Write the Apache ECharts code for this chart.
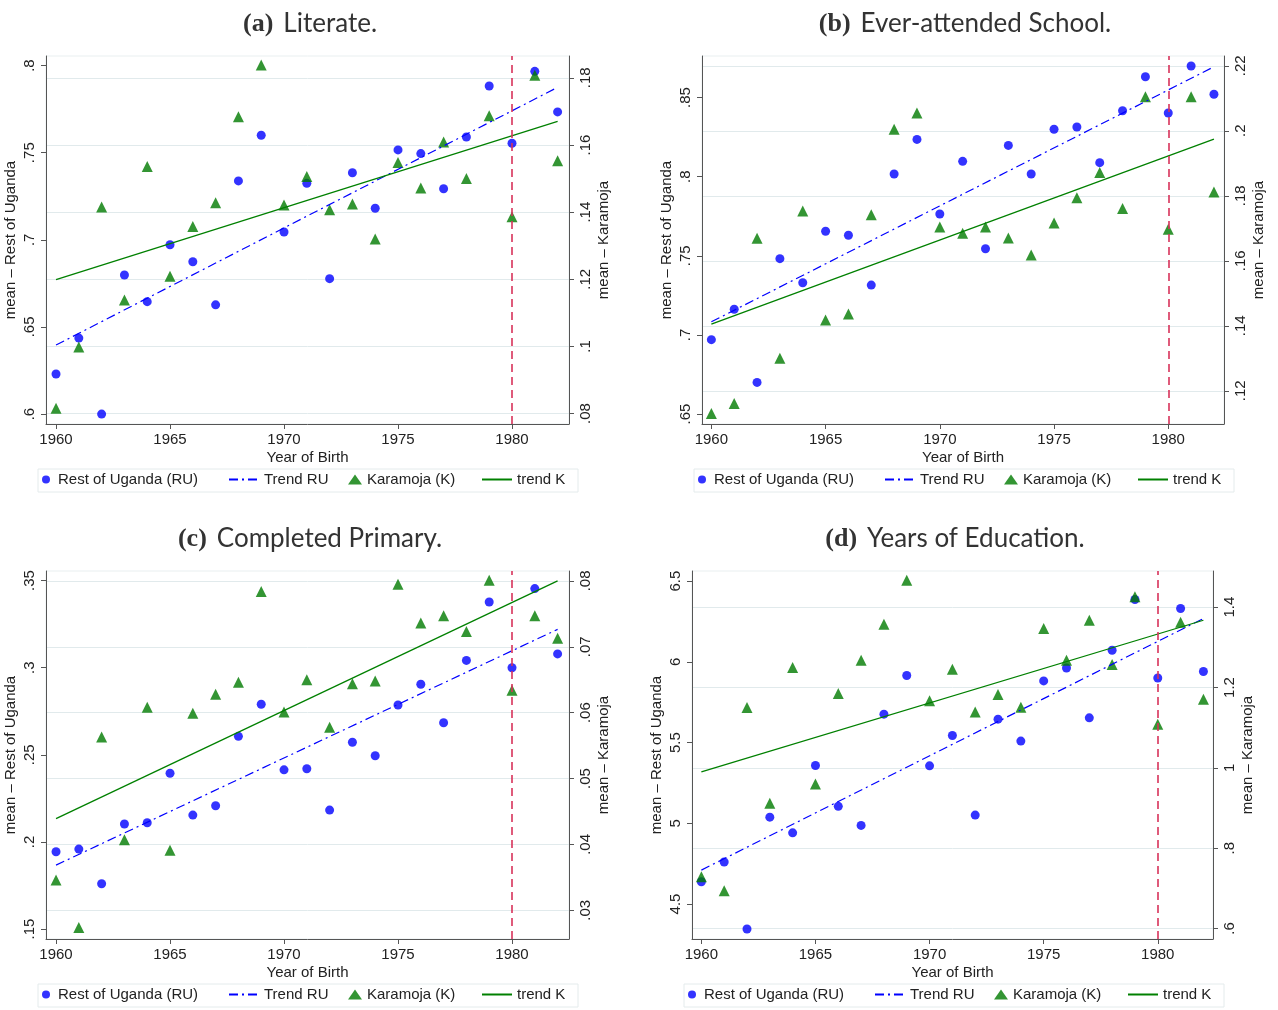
<!DOCTYPE html>
<html>
<head>
<meta charset="utf-8">
<script src="https://cdn.jsdelivr.net/npm/echarts@6/dist/echarts.min.js"></script>
<style>
html, body { margin: 0; padding: 0; background: #fff; }
#pageEcharts { width: 1278px; height: 1010px; }
</style>
</head>
<body>
<div id="pageEcharts"></div>
<script>
// year of birth cohorts
var years = [1960,1961,1962,1963,1964,1965,1966,1967,1968,1969,1970,1971,1972,1973,1974,1975,1976,1977,1978,1979,1980,1981,1982];
var trendYears = [1960, 1982];
var xTicks = [1960, 1965, 1970, 1975, 1980];
var cutoffYear = 1980;

// (a) literate
var ruLiterate = [.623,.6436,.600,.6798,.6645,.6972,.6874,.6627,.7338,.760,.7045,.7324,.6777,.7385,.7181,.7516,.7495,.7293,.759,.7883,.7554,.7967,.7734];
var kLiterate = [.0816,.0998,.1415,.1138,.1536,.1209,.1357,.1428,.1684,.1838,.1421,.1506,.1407,.1424,.132,.1548,.1472,.1609,.150,.1687,.1386,.1808,.1553];
var trendRuLiterate = [.6396, .7875];
var trendKLiterate = [.1199, .167];
var ticksLeftA = [.6, .65, .7, .75, .8];
var ticksRightA = [.08, .1, .12, .14, .16, .18];

// (b) ever-attended school
var ruSchool = [.697,.7162,.670,.7482,.733,.7655,.763,.7315,.8017,.8236,.7764,.8097,.7545,.8198,.8017,.83,.8314,.8089,.8417,.8632,.8403,.87,.8521];
var kSchool = [.113,.1161,.1669,.13,.1753,.1418,.1436,.1742,.2005,.2055,.1704,.1685,.1704,.167,.1618,.1716,.1794,.1872,.1761,.2105,.1697,.2105,.1812];
var trendRuSchool = [.7083, .8695];
var trendKSchool = [.1405, .1974];
var ticksLeftB = [.65, .7, .75, .8, .85];
var ticksRightB = [.12, .14, .16, .18, .2, .22];

// (c) completed primary
var ruPrimary = [.1944,.1959,.176,.2103,.211,.2394,.2154,.2208,.2606,.279,.2414,.242,.2183,.2572,.2495,.2786,.2905,.2684,.3042,.3377,.3,.3454,.3079];
var kPrimary = [.0346,.0274,.0563,.0407,.0608,.0391,.0599,.0628,.0646,.0784,.0601,.065,.0578,.0644,.0648,.0795,.0736,.0747,.0723,.0801,.0634,.0747,.0713];
var trendRuPrimary = [.1867, .322];
var trendKPrimary = [.0439, .08];
var ticksLeftC = [.15, .2, .25, .3, .35];
var ticksRightC = [.03, .04, .05, .06, .07, .08];

// (d) years of education
var ruYears = [4.638,4.76,4.345,5.038,4.941,5.358,5.105,4.987,5.676,5.915,5.356,5.544,5.051,5.645,5.509,5.882,5.962,5.653,6.072,6.386,5.9,6.33,5.94];
var kYears = [.7289,.694,1.1502,.912,1.2498,.9595,1.185,1.268,1.3575,1.467,1.1667,1.2455,1.139,1.1826,1.151,1.3468,1.268,1.3674,1.257,1.426,1.1087,1.3624,1.171];
var trendRuYears = [4.71, 6.268];
var trendKYears = [.99, 1.3674];
var ticksLeftD = [4.5, 5, 5.5, 6, 6.5];
var ticksRightD = [.6, .8, 1, 1.2, 1.4];

var names = ['Rest of Uganda (RU)', 'Trend RU', 'Karamoja (K)', 'trend K'];

var panels = [
    {tag:'(a)', title:'Literate.', ru:ruLiterate, k:kLiterate, tRu:trendRuLiterate, tK:trendKLiterate, lt:ticksLeftA, rt:ticksRightA,
     grid:{left:46, top:56, width:523, height:368}, x:[1959.56, 1982.5], yl:[.5943, .8055], yr:[.0769, .1865], titleX:305, titleTop:6, legendTop:472},
    {tag:'(b)', title:'Ever-attended School.', ru:ruSchool, k:kSchool, tRu:trendRuSchool, tK:trendKSchool, lt:ticksLeftB, rt:ticksRightB,
     grid:{left:702, top:56, width:522, height:368}, x:[1959.59, 1982.44], yl:[.6437, .8763], yr:[.1098, .223], titleX:960, titleTop:6, legendTop:472},
    {tag:'(c)', title:'Completed Primary.', ru:ruPrimary, k:kPrimary, tRu:trendRuPrimary, tK:trendKPrimary, lt:ticksLeftC, rt:ticksRightC,
     grid:{left:46, top:571, width:523, height:368}, x:[1959.56, 1982.5], yl:[.1443, .3555], yr:[.02564, .0815], titleX:305, titleTop:521, legendTop:987},
    {tag:'(d)', title:'Years of Education.', ru:ruYears, k:kYears, tRu:trendRuYears, tK:trendKYears, lt:ticksLeftD, rt:ticksRightD,
     grid:{left:692, top:571, width:521, height:368}, x:[1959.59, 1982.42], yl:[4.2834, 6.5625], yr:[.5739, 1.49], titleX:950, titleTop:521, legendTop:987}
];

var sans = 'Liberation Sans';
var axisColor = '#555';
var textColor = '#222';

function stataLabel(v) {
    return String(v).replace(/^0\./, '.');
}

function pairs(xs, ys) {
    return xs.map(function (x, i) { return [x, ys[i]]; });
}

var option = {
    animation: false,
    backgroundColor: '#fff',
    title: [],
    grid: [],
    xAxis: [],
    yAxis: [],
    legend: [],
    graphic: [],
    series: []
};

panels.forEach(function (p, i) {
    option.title.push({
        text: '{b|' + p.tag + '}  {t|' + p.title + '}',
        left: p.titleX,
        top: p.titleTop,
        textAlign: 'center',
        textStyle: {
            fontWeight: 'normal',
            rich: {
                b: {fontFamily: 'Liberation Serif', fontWeight: 'bold', fontSize: 26, color: '#333'},
                t: {fontFamily: 'Lato', fontWeight: 'normal', fontSize: 26, color: '#333'}
            }
        }
    });
    option.grid.push({
        left: p.grid.left, top: p.grid.top, width: p.grid.width, height: p.grid.height,
        show: true, borderColor: '#e9eff0', borderWidth: 1
    });
    option.xAxis.push({
        gridIndex: i,
        type: 'value',
        min: p.x[0],
        max: p.x[1],
        name: 'Year of Birth',
        nameLocation: 'middle',
        nameGap: 26,
        nameTextStyle: {fontFamily: sans, fontSize: 15, color: textColor},
        axisLine: {onZero: false, lineStyle: {color: axisColor, width: 1}},
        axisTick: {customValues: xTicks, length: 5, lineStyle: {color: axisColor}},
        axisLabel: {customValues: xTicks, fontFamily: sans, fontSize: 15, color: textColor, margin: 8,
            formatter: function (v) { return String(v); }},
        splitLine: {show: false}
    });
    // left axis: Rest of Uganda
    option.yAxis.push({
        gridIndex: i,
        type: 'value',
        position: 'left',
        min: p.yl[0],
        max: p.yl[1],
        name: 'mean \u2013 Rest of Uganda',
        nameLocation: 'middle',
        nameRotate: 90,
        nameGap: 28,
        nameTextStyle: {fontFamily: sans, fontSize: 15, color: textColor},
        axisLine: {show: true, lineStyle: {color: axisColor, width: 1}},
        axisTick: {show: true, customValues: p.lt, length: 5, lineStyle: {color: axisColor}},
        axisLabel: {customValues: p.lt, rotate: 90, fontFamily: sans, fontSize: 15, color: textColor, margin: 9, formatter: stataLabel},
        splitLine: {show: false}
    });
    // right axis: Karamoja
    option.yAxis.push({
        gridIndex: i,
        type: 'value',
        position: 'right',
        min: p.yr[0],
        max: p.yr[1],
        name: 'mean \u2013 Karamoja',
        nameLocation: 'middle',
        nameRotate: 90,
        nameGap: 27,
        nameTextStyle: {fontFamily: sans, fontSize: 15, color: textColor},
        axisLine: {show: true, lineStyle: {color: axisColor, width: 1}},
        axisTick: {show: true, customValues: p.rt, length: 5, lineStyle: {color: axisColor}},
        axisLabel: {customValues: p.rt, rotate: 90, fontFamily: sans, fontSize: 15, color: textColor, margin: 9, formatter: stataLabel},
        splitLine: {show: true, lineStyle: {color: '#e1eaec', width: 1}}
    });

    option.series.push({
        name: names[0], type: 'scatter', xAxisIndex: i, yAxisIndex: 2 * i,
        symbol: 'circle', symbolSize: 9,
        itemStyle: {color: '#0000ff'},
        data: pairs(years, p.ru)
    });
    option.series.push({
        name: names[1], type: 'line', xAxisIndex: i, yAxisIndex: 2 * i,
        symbol: 'none',
        lineStyle: {color: '#0000ff', width: 1.2, type: [9, 4, 2, 4]},
        itemStyle: {color: '#0000ff'},
        data: pairs(trendYears, p.tRu)
    });
    option.series.push({
        name: names[2], type: 'scatter', xAxisIndex: i, yAxisIndex: 2 * i + 1,
        symbol: 'triangle', symbolSize: 11,
        itemStyle: {color: '#007a00'},
        data: pairs(years, p.k)
    });
    option.series.push({
        name: names[3], type: 'line', xAxisIndex: i, yAxisIndex: 2 * i + 1,
        symbol: 'none',
        lineStyle: {color: '#008000', width: 1.3},
        itemStyle: {color: '#008000'},
        data: pairs(trendYears, p.tK),
        markLine: {
            silent: true,
            symbol: 'none',
            label: {show: false},
            lineStyle: {color: '#d8325a', width: 1.6, type: [8, 5]},
            data: [{xAxis: cutoffYear}]
        }
    });

    // one legend per key, placed under each panel
    var offs = [-4, 182, 302, 435];
    var widths = [14, 30, 14, 30];
    names.forEach(function (n, j) {
        var isLine = (j === 1 || j === 3);
        option.legend.push({
            data: [n],
            left: p.grid.left + offs[j],
            top: p.legendTop,
            padding: 0,
            itemWidth: widths[j],
            itemHeight: j === 2 ? 10 : 8,
            itemGap: 0,
            selectedMode: false,
            itemStyle: isLine ? {opacity: 0} : {},
            textStyle: {fontFamily: sans, fontSize: 15, color: textColor}
        });
    });
    option.graphic.push({
        type: 'rect',
        silent: true,
        shape: {x: p.grid.left - 8, y: p.legendTop - 3, width: 540, height: 23},
        style: {fill: 'none', stroke: '#e4ebec', lineWidth: 1}
    });
});

var myChart = echarts.init(document.getElementById('pageEcharts'));
myChart.setOption(option);
</script>
</body>
</html>
